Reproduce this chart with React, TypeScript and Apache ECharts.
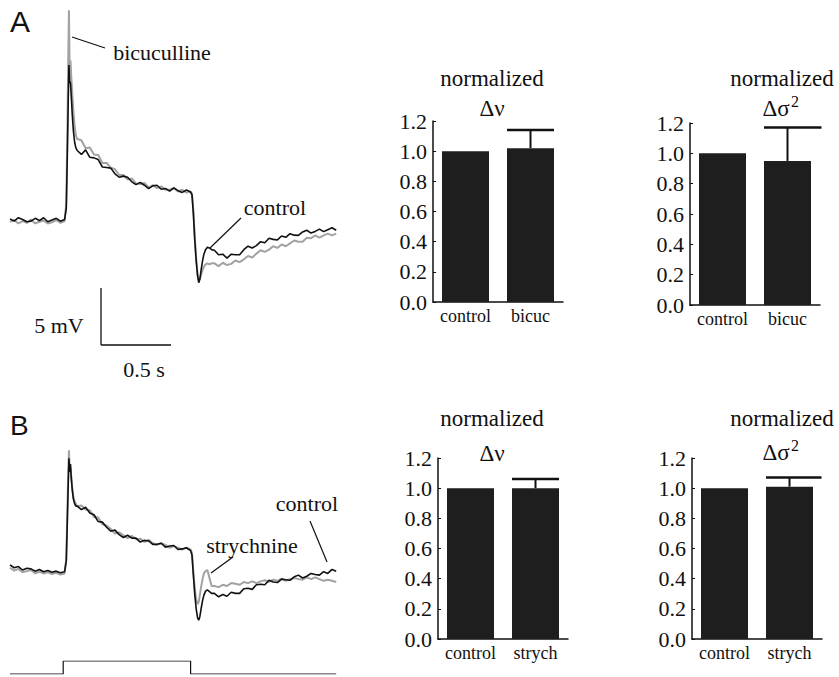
import React, { useEffect, useRef } from "react";
import * as echarts from "echarts";

// ---- sampling times (s) shared by all four membrane-potential traces ----
const TIME = [
  0, 0.03, 0.06, 0.09, 0.12, 0.15, 0.18, 0.21, 0.24, 0.27, 0.3, 0.33, 0.36, 0.39,
  0.402, 0.41, 0.416, 0.421, 0.426, 0.432, 0.438, 0.445, 0.453, 0.462, 0.471,
  0.48, 0.51, 0.54, 0.57, 0.6, 0.63, 0.66, 0.69, 0.72, 0.75, 0.78, 0.81, 0.84, 0.87, 0.9, 0.93, 0.96, 0.99, 1.02, 1.05, 1.08, 1.11, 1.14, 1.17, 1.2, 1.23, 1.26, 1.29,
  1.3, 1.31, 1.32, 1.33, 1.34, 1.348, 1.356, 1.365, 1.375, 1.385, 1.397, 1.41, 1.425, 1.44,
  1.46, 1.49, 1.52, 1.55, 1.58, 1.61, 1.64, 1.67, 1.7, 1.73, 1.76, 1.79, 1.82, 1.85, 1.88, 1.91, 1.94, 1.97, 2.0, 2.03, 2.06, 2.09, 2.12, 2.15, 2.18, 2.21, 2.24, 2.27, 2.3, 2.33,
];

// ---- panel A (mV) ----
const A_CONTROL = [
  0.1, -0.1, 0.2, 0.05, -0.15, -0.1, 0.15, -0.05, 0.2, -0.15, 0.0, 0.15, -0.1, 0.05,
  1.0, 6.0, 10.5, 13.6, 12.2, 12.0, 10.8, 9.2, 7.8, 6.8, 6.3,
  6.1, 5.75, 6.15, 5.5, 5.45, 5.3, 4.65, 4.6, 4.55, 4.05, 3.75, 3.85, 3.75, 3.35, 3.1, 3.3, 3.05, 2.75, 3.0, 3.05, 2.7, 2.77, 2.53, 2.82, 2.57, 2.42, 2.63, 2.45,
  2.2, 0.5, -1.8, -3.6, -4.9, -5.5, -5.2, -4.4, -3.6, -3.0, -2.6, -2.4, -2.45, -2.6,
  -2.65, -3.05, -3.0, -3.35, -3.0, -3.05, -3.05, -2.6, -2.3, -2.45, -2.25, -1.9, -2.0, -1.6, -1.7, -1.75, -1.4, -1.52, -1.2, -1.33, -1.35, -1.05, -0.9, -1.15, -1.0, -0.8, -1.02, -0.85, -0.68, -0.9,
];
const A_BICUC = [
  -0.15, 0.0, -0.3, -0.1, -0.25, 0.05, -0.3, -0.15, -0.05, -0.3, -0.2, 0.0, -0.25, -0.1,
  1.5, 8.0, 14.0, 18.4, 13.0, 14.0, 12.5, 11.0, 9.5, 8.2, 7.4,
  7.1, 7.0, 6.3, 6.35, 5.75, 5.7, 5.0, 5.0, 4.6, 4.45, 3.95, 3.95, 3.55, 3.65, 3.2, 3.15, 3.25, 2.85, 3.05, 2.8, 2.95, 2.65, 2.65, 2.8, 2.5, 2.65, 2.4, 2.5,
  2.3, 0.8, -1.5, -3.4, -4.8, -5.3, -5.2, -4.8, -4.4, -4.1, -3.9, -3.8, -3.9, -3.8,
  -3.8, -4.05, -3.75, -3.95, -3.85, -3.55, -3.7, -3.45, -3.15, -3.3, -2.95, -2.65, -2.8, -2.6, -2.3, -2.45, -2.15, -2.3, -2.05, -1.8, -1.9, -1.9, -1.55, -1.6, -1.35, -1.55, -1.35, -1.2, -1.35, -1.2,
];

// ---- panel B (mV) ----
const B_CONTROL = [
  0.45, 0.2, 0.3, 0.0, 0.15, 0.1, -0.1, 0.05, -0.15, -0.05, -0.2, -0.1, -0.25, -0.15,
  0.8, 4.5, 7.5, 9.8, 8.6, 9.3, 8.0, 7.0, 6.2, 5.8, 5.6,
  5.6, 5.3, 5.5, 5.0, 4.85, 4.25, 4.2, 3.75, 3.4, 3.5, 3.1, 2.85, 3.05, 2.8, 2.8, 2.45, 2.6, 2.55, 2.25, 2.25, 2.35, 2.0, 2.1, 2.15, 1.8, 1.85, 1.95, 1.7,
  1.3, -0.5, -2.2, -3.4, -4.2, -4.4, -4.1, -3.4, -2.7, -2.2, -1.85, -1.75, -1.9, -2.05,
  -2.05, -2.35, -2.15, -2.3, -1.95, -2.05, -2.05, -1.65, -1.6, -1.7, -1.3, -1.25, -1.3, -0.9, -1.05, -1.1, -0.8, -0.85, -0.9, -0.6, -0.45, -0.7, -0.55, -0.3, -0.4, -0.45, -0.15, -0.3, 0.05, -0.1,
];
const B_STRYCH = [
  0.2, -0.05, 0.1, -0.2, -0.1, 0.0, -0.3, -0.15, -0.3, -0.2, -0.35, -0.25, -0.4, -0.3,
  1.0, 5.5, 8.5, 10.5, 9.0, 9.0, 8.2, 7.2, 6.4, 6.0, 5.8,
  5.6, 5.65, 5.3, 5.25, 4.65, 4.6, 4.0, 3.9, 3.6, 3.2, 3.3, 3.05, 2.8, 3.0, 2.7, 2.75, 2.45, 2.65, 2.35, 2.2, 2.35, 2.2, 1.95, 2.1, 1.95, 1.8, 1.95, 1.8,
  1.5, -0.2, -1.6, -2.6, -3.0, -2.8, -2.2, -1.5, -0.8, -0.3, -0.1, 0.0, -0.7, -1.4,
  -1.4, -1.5, -1.3, -1.4, -1.15, -1.2, -1.3, -1.05, -1.15, -1.0, -1.15, -1.0, -0.9, -1.05, -0.85, -0.95, -0.75, -0.95, -0.8, -0.7, -0.8, -0.85, -0.65, -0.8, -0.65, -0.8, -0.95, -0.85, -0.95, -1.05,
];

// ---- current step (stimulus) ----
const STIM_T = [0, 0.38, 0.38, 1.29, 1.29, 2.33];
const STIM_V = [0, 0, 1, 1, 0, 0];

// ---- bar panels ----
const CATS_A = ["control", "bicuc"];
const CATS_B = ["control", "strych"];
const DV_A = [1.0, 1.02];
const DV_A_ERR = 1.14;
const DS_A = [1.0, 0.95];
const DS_A_ERR = 1.17;
const DV_B = [1.0, 1.0];
const DV_B_ERR = 1.06;
const DS_B = [1.0, 1.01];
const DS_B_ERR = 1.07;
const BAR_MAX = 1.2;
const BAR_STEP = 0.2;

// ---- layout constants ----
const PX_PER_S = 140;
const PX_PER_MV = 11.4;
const TR_LEFT = 10;
const TR_W = 327;
const T_MAX = TR_W / PX_PER_S;
const A_BASE_Y = 220;
const B_BASE_Y = 570;
const A_RANGE = [-9, 19];
const B_RANGE = [-8, 12];

const SERIF = "Liberation Serif";
const SANS = "Liberation Sans";
const BLACK = "#111";
const GRAY = "#a2a2a2";
const BAR_COLOR = "#1e1e1e";

const BAR_GRIDS = [
  { left: 433, top: 121, width: 130, height: 181, capL: -23.5, capR: 23.5 },
  { left: 690, top: 123, width: 130, height: 182, capL: -23.5, capR: 34 },
  { left: 438, top: 458, width: 130, height: 181, capL: -23.5, capR: 23.5 },
  { left: 692, top: 458, width: 130, height: 181, capL: -23.5, capR: 32 },
];
const BAR_SETS = [
  { cats: CATS_A, vals: DV_A, err: DV_A_ERR },
  { cats: CATS_A, vals: DS_A, err: DS_A_ERR },
  { cats: CATS_B, vals: DV_B, err: DV_B_ERR },
  { cats: CATS_B, vals: DS_B, err: DS_B_ERR },
];

const pairs = (v: number[]) => TIME.map((t, i) => [t, v[i]]);

function txt(text: string, x: number, y: number, size: number, family = SERIF, align = "center") {
  return {
    type: "text",
    x,
    y,
    silent: true,
    style: {
      text,
      fontSize: size,
      fontFamily: family,
      fill: BLACK,
      align,
      verticalAlign: "middle",
      textAlign: align,
      textVerticalAlign: "middle",
    },
  };
}
function seg(x1: number, y1: number, x2: number, y2: number, w = 1.2) {
  return { type: "line", silent: true, shape: { x1, y1, x2, y2 }, style: { stroke: BLACK, lineWidth: w } };
}

function buildOption() {
  const grid: any[] = [
    { left: TR_LEFT, top: A_BASE_Y - A_RANGE[1] * PX_PER_MV, width: TR_W, height: (A_RANGE[1] - A_RANGE[0]) * PX_PER_MV },
    { left: TR_LEFT, top: B_BASE_Y - B_RANGE[1] * PX_PER_MV, width: TR_W, height: (B_RANGE[1] - B_RANGE[0]) * PX_PER_MV },
    { left: TR_LEFT, top: 661, width: TR_W, height: 13 },
    ...BAR_GRIDS.map((g) => ({ left: g.left, top: g.top, width: g.width, height: g.height })),
  ].map((g) => ({ ...g, outerBoundsMode: "none", containLabel: false }));

  const xAxis: any[] = [
    { gridIndex: 0, type: "value", min: 0, max: T_MAX, show: false },
    { gridIndex: 1, type: "value", min: 0, max: T_MAX, show: false },
    { gridIndex: 2, type: "value", min: 0, max: T_MAX, show: false },
    ...BAR_SETS.map((s, i) => ({
      gridIndex: 3 + i,
      type: "category",
      data: s.cats,
      axisLine: { show: true, lineStyle: { color: BLACK, width: 1.5 } },
      axisTick: { show: false },
      axisLabel: { interval: 0, hideOverlap: false, fontFamily: SERIF, fontSize: 18, color: BLACK, margin: 5 },
    })),
  ];
  const yAxis: any[] = [
    { gridIndex: 0, type: "value", min: A_RANGE[0], max: A_RANGE[1], show: false },
    { gridIndex: 1, type: "value", min: B_RANGE[0], max: B_RANGE[1], show: false },
    { gridIndex: 2, type: "value", min: 0, max: 1, show: false },
    ...BAR_SETS.map((_s, i) => ({
      gridIndex: 3 + i,
      type: "value",
      min: 0,
      max: BAR_MAX,
      interval: BAR_STEP,
      splitLine: { show: false },
      axisLine: { show: true, lineStyle: { color: BLACK, width: 1.5 } },
      axisTick: { show: true, inside: true, length: 3, lineStyle: { color: BLACK, width: 1 } },
      axisLabel: {
        fontFamily: SERIF,
        fontSize: 22,
        color: BLACK,
        margin: 6,
        formatter: (v: number) => v.toFixed(1),
      },
    })),
  ];

  const lineCommon = { type: "line", showSymbol: false, symbol: "none", silent: true, animation: false };
  const series: any[] = [
    { ...lineCommon, xAxisIndex: 0, yAxisIndex: 0, data: pairs(A_BICUC), lineStyle: { color: GRAY, width: 2 }, z: 2 },
    { ...lineCommon, xAxisIndex: 0, yAxisIndex: 0, data: pairs(A_CONTROL), lineStyle: { color: BLACK, width: 1.6 }, z: 3 },
    { ...lineCommon, xAxisIndex: 1, yAxisIndex: 1, data: pairs(B_STRYCH), lineStyle: { color: GRAY, width: 2 }, z: 2 },
    { ...lineCommon, xAxisIndex: 1, yAxisIndex: 1, data: pairs(B_CONTROL), lineStyle: { color: BLACK, width: 1.6 }, z: 3 },
    {
      ...lineCommon,
      xAxisIndex: 2,
      yAxisIndex: 2,
      data: STIM_T.map((t, i) => [t, STIM_V[i]]),
      lineStyle: { color: BLACK, width: 1.2 },
    },
  ];

  BAR_SETS.forEach((s, i) => {
    const g = BAR_GRIDS[i];
    series.push({
      type: "bar",
      xAxisIndex: 3 + i,
      yAxisIndex: 3 + i,
      data: s.vals,
      barWidth: 47,
      itemStyle: { color: BAR_COLOR },
      silent: true,
      z: 2,
    });
    series.push({
      type: "custom",
      xAxisIndex: 3 + i,
      yAxisIndex: 3 + i,
      silent: true,
      z: 3,
      data: [[1, s.vals[1], s.err]],
      renderItem: (_p: any, api: any) => {
        const x = api.value(0);
        const lo = api.coord([x, api.value(1)]);
        const hi = api.coord([x, api.value(2)]);
        return {
          type: "group",
          children: [
            { type: "line", shape: { x1: lo[0], y1: lo[1], x2: hi[0], y2: hi[1] }, style: { stroke: BLACK, lineWidth: 2 } },
            { type: "line", shape: { x1: hi[0] + g.capL, y1: hi[1], x2: hi[0] + g.capR, y2: hi[1] }, style: { stroke: BLACK, lineWidth: 2.5 } },
          ],
        };
      },
    });
  });

  const sbX = 101;
  const sbY = 345;
  const graphic: any[] = [
    txt("A", 10, 21, 30, SANS, "left"),
    txt("B", 10, 425, 28, SANS, "left"),
    txt("bicuculline", 162, 52, 22),
    seg(72, 37, 105, 48),
    txt("control", 275, 207, 22),
    seg(241, 218, 210, 248),
    txt("strychnine", 252, 545, 22),
    seg(233, 557, 211, 573),
    txt("control", 307, 503, 22),
    seg(310, 521, 327, 562),
    // scale bar
    seg(sbX, sbY - 5 * PX_PER_MV, sbX, sbY, 1.3),
    seg(sbX, sbY, sbX + 0.5 * PX_PER_S, sbY, 1.3),
    txt("5 mV", 59, 325, 22),
    txt("0.5 s", 144, 369, 22),
    // bar titles
    txt("normalized", 492, 78, 23),
    txt("Δν", 492, 108, 23),
    txt("normalized", 782, 78, 23),
    txt("Δσ", 776, 108, 23),
    txt("2", 791, 101, 16, SERIF, "left"),
    txt("normalized", 492, 418, 23),
    txt("Δν", 492, 453, 23),
    txt("normalized", 782, 418, 23),
    txt("Δσ", 776, 452, 23),
    txt("2", 791, 445, 16, SERIF, "left"),
  ];

  return {
    animation: false,
    backgroundColor: "#ffffff",
    grid,
    xAxis,
    yAxis,
    series,
    graphic: { elements: graphic },
  };
}

export default function App() {
  const ref = useRef<HTMLDivElement>(null);
  useEffect(() => {
    if (!ref.current) return;
    const chart = echarts.init(ref.current, null, { renderer: "svg" });
    chart.setOption(buildOption() as any);
    return () => chart.dispose();
  }, []);
  return (
    <div
      ref={ref}
      style={{ position: "fixed", left: 0, top: 0, width: 839, height: 677, background: "#fff" }}
    />
  );
}
